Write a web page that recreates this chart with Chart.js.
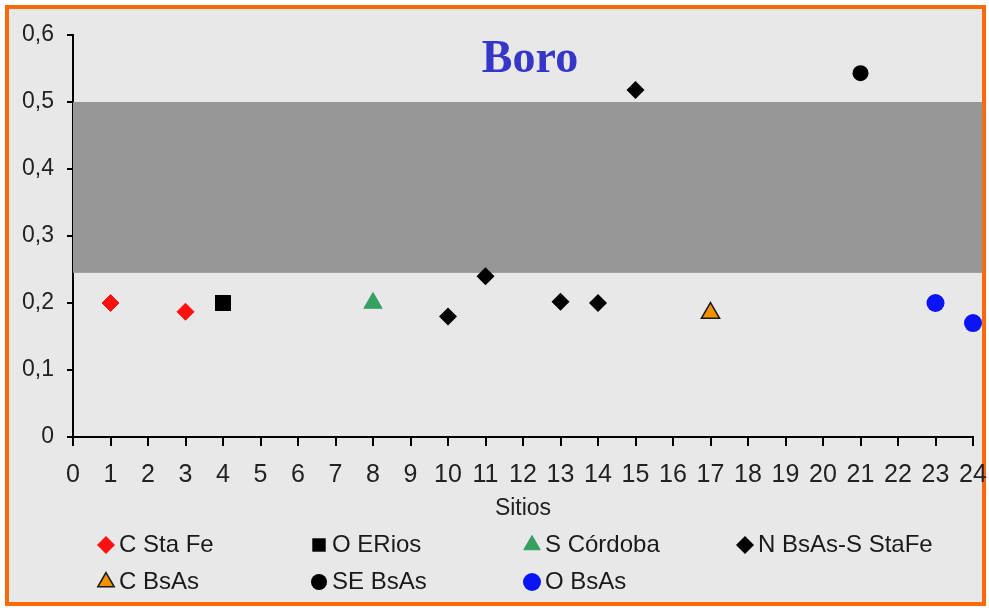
<!DOCTYPE html>
<html><head><meta charset="utf-8">
<script src="https://cdn.jsdelivr.net/npm/chart.js@4/dist/chart.umd.min.js"></script>
<style>html,body{margin:0;padding:0;background:#fff;}#wrap{width:989px;height:608px;position:relative}</style>
</head><body><div id="wrap"><canvas id="c" width="989" height="608"></canvas></div>
<script>
// ---- data ----
const seriesNames = ['C Sta Fe', 'O ERios', 'S Córdoba', 'N BsAs-S StaFe', 'C BsAs', 'SE BsAs', 'O BsAs'];
const sitesCStaFe = [1, 3];            const boroCStaFe = [0.2, 0.187];
const sitesOERios = [4];               const boroOERios = [0.2];
const sitesSCordoba = [8];             const boroSCordoba = [0.2];
const sitesNBsAsSStaFe = [10, 11, 13, 14, 15]; const boroNBsAsSStaFe = [0.18, 0.24, 0.202, 0.2, 0.518];
const sitesCBsAs = [17];               const boroCBsAs = [0.185];
const sitesSEBsAs = [21];              const boroSEBsAs = [0.543];
const sitesOBsAs = [23, 24];           const boroOBsAs = [0.2, 0.17];
const xTickValues = [0,1,2,3,4,5,6,7,8,9,10,11,12,13,14,15,16,17,18,19,20,21,22,23,24];
const yTickLabels = ['0', '0,1', '0,2', '0,3', '0,4', '0,5', '0,6'];
const bandBoro = [0.245, 0.5];      // grey sufficiency band (y range)
const bandSites = [0, 24.25];       // grey band x extent
const chartTitle = 'Boro';
const xAxisTitle = 'Sitios';

const pts = (xs, ys) => xs.map((x, i) => ({x: x, y: ys[i]}));
const FONT = "'Liberation Sans', Arial, sans-serif";

const styles = [
  {pointStyle: 'rectRot', radius: 8.5, bg: '#ff1010', border: '#ff1010', bw: 1},
  {pointStyle: 'rect', radius: 11.3, bg: '#000000', border: '#000000', bw: 0},
  {pointStyle: 'triangle', radius: 10.5, bg: '#35a060', border: '#35a060', bw: 1},
  {pointStyle: 'rectRot', radius: 9, bg: '#000000', border: '#000000', bw: 0},
  {pointStyle: 'triangle', radius: 10.5, bg: '#f39200', border: '#1a1a1a', bw: 1.5},
  {pointStyle: 'circle', radius: 8, bg: '#000000', border: '#000000', bw: 0},
  {pointStyle: 'circle', radius: 9, bg: '#0a14f5', border: '#0a14f5', bw: 0}
];
const seriesData = [
  pts(sitesCStaFe, boroCStaFe), pts(sitesOERios, boroOERios), pts(sitesSCordoba, boroSCordoba),
  pts(sitesNBsAsSStaFe, boroNBsAsSStaFe), pts(sitesCBsAs, boroCBsAs), pts(sitesSEBsAs, boroSEBsAs),
  pts(sitesOBsAs, boroOBsAs)
];

const datasets = seriesNames.map((n, i) => ({
  label: n, data: seriesData[i], pointStyle: styles[i].pointStyle, pointRadius: styles[i].radius,
  pointHoverRadius: styles[i].radius, backgroundColor: styles[i].bg, borderColor: styles[i].border,
  pointBorderWidth: styles[i].bw, borderWidth: styles[i].bw, showLine: false, clip: false
}));

const framePlugin = {
  id: 'frame',
  beforeDraw(chart) {
    const ctx = chart.ctx, W = chart.width, H = chart.height;
    ctx.save();
    ctx.fillStyle = '#ffffff'; ctx.fillRect(0, 0, W, H);
    ctx.fillStyle = '#fa6a0a'; ctx.fillRect(5, 5, W - 8, H - 7);
    ctx.fillStyle = '#e8e8e8'; ctx.fillRect(9, 9, W - 16, H - 15);
    ctx.restore();
  },
  beforeDatasetsDraw(chart) {
    const ctx = chart.ctx, x = chart.scales.x, y = chart.scales.y;
    const l = x.getPixelForValue(bandSites[0]), r = x.getPixelForValue(bandSites[1]);
    const t = y.getPixelForValue(bandBoro[1]), b = y.getPixelForValue(bandBoro[0]);
    ctx.save(); ctx.fillStyle = '#969696'; ctx.fillRect(l, t, r - l, b - t); ctx.restore();
  },
  afterDraw(chart) {
    const ctx = chart.ctx;
    ctx.save();
    ctx.fillStyle = '#3636c8';
    ctx.font = "bold 46px 'Liberation Serif', 'Times New Roman', serif";
    ctx.textAlign = 'center'; ctx.textBaseline = 'alphabetic';
    ctx.fillText(chartTitle, 530, 72);
    // legend grid
    chart.data.datasets.forEach((ds, i) => {
      const col = i % 4, row = Math.floor(i / 4);
      const mx = 106 + col * 213, my = row === 0 ? 545 : 582;
      ctx.fillStyle = styles[i].bg; ctx.strokeStyle = styles[i].border; ctx.lineWidth = styles[i].bw;
      Chart.helpers.drawPoint(ctx, {pointStyle: styles[i].pointStyle, radius: Math.min(styles[i].radius, 9.5), rotation: 0, borderWidth: styles[i].bw}, mx, my);
      ctx.fillStyle = '#1a1a1a'; ctx.font = '24px ' + FONT; ctx.textAlign = 'left'; ctx.textBaseline = 'middle';
      ctx.fillText(ds.label, mx + 13, my);
    });
    ctx.restore();
  }
};

new Chart(document.getElementById('c'), {
  type: 'scatter',
  data: {datasets: datasets},
  options: {
    responsive: false, animation: false,
    layout: {padding: {left: 0, right: 16, top: 35, bottom: 81}},
    plugins: {legend: {display: false}, tooltip: {enabled: false}, title: {display: false}},
    scales: {
      x: {
        type: 'linear', min: 0, max: 24,
        afterBuildTicks: (s) => { s.ticks = xTickValues.map(v => ({value: v})); },
        afterFit: (s) => { s.height = 90; s.paddingRight = 0; s.paddingLeft = 0; },
        ticks: {autoSkip: false, maxRotation: 0, minRotation: 0, padding: 14, color: '#222', font: {family: FONT, size: 25}},
        grid: {drawOnChartArea: false, drawTicks: true, tickLength: 9, color: '#000', lineWidth: 2},
        border: {display: true, color: '#000', width: 2},
        title: {display: true, text: xAxisTitle, color: '#222', font: {family: FONT, size: 23}, padding: {top: 0, bottom: 5}}
      },
      y: {
        type: 'linear', min: 0, max: 0.6,
        afterBuildTicks: (s) => { s.ticks = yTickLabels.map((t, i) => ({value: i / 10})); },
        afterFit: (s) => { s.width = 73; s.paddingTop = 0; s.paddingBottom = 0; },
        ticks: {callback: (v, i) => yTickLabels[i], padding: 13, color: '#222', font: {family: FONT, size: 23}},
        grid: {drawOnChartArea: false, drawTicks: true, tickLength: 6, color: '#000', lineWidth: 2},
        border: {display: true, color: '#000', width: 2}
      }
    }
  },
  plugins: [framePlugin]
});
</script></body></html>
